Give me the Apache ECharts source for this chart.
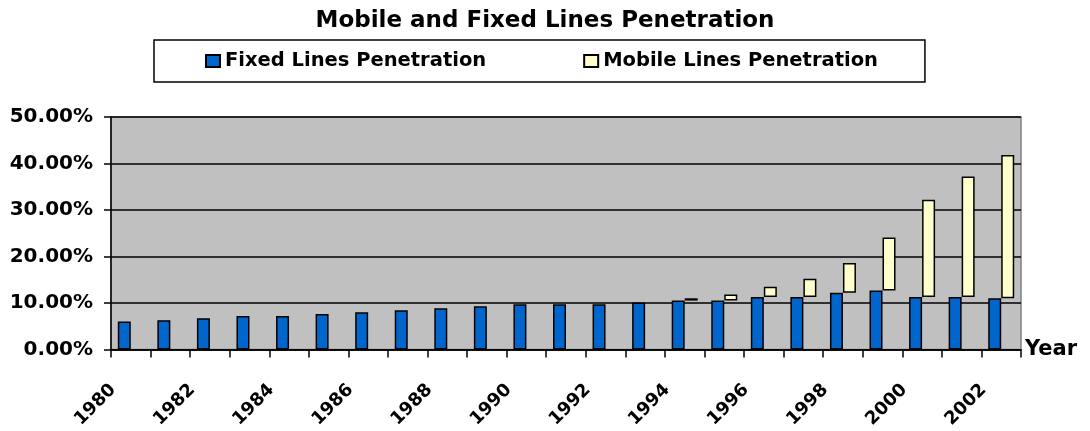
<!DOCTYPE html>
<html>
<head>
<meta charset="utf-8">
<script src="https://cdn.jsdelivr.net/npm/echarts@6/dist/echarts.min.js"></script>
<style>html,body{margin:0;padding:0;background:#fff}#c{width:1090px;height:431px}</style>
</head>
<body>
<div id="c"></div>
<script>
const years = ['1980','1981','1982','1983','1984','1985','1986','1987','1988','1989','1990','1991','1992','1993','1994','1995','1996','1997','1998','1999','2000','2001','2002'];
const fixedLines = [6.0,6.3,6.7,7.2,7.2,7.6,8.0,8.4,8.85,9.3,9.7,9.7,9.7,10.1,10.5,10.5,11.3,11.3,12.2,12.7,11.3,11.3,11.0];
// mobile bars drawn floating on top of the fixed-line level (stacked increments)
const mobileLines = [null,null,null,null,null,null,null,null,null,null,null,null,null,null,0.5,1.3,2.2,3.9,6.4,11.4,20.9,25.9,30.8];
const yTicks = [0,10,20,30,40,50];

const FONT = "'DejaVu Sans', Verdana, sans-serif";
const baseData = fixedLines.map((v,i)=> mobileLines[i] == null ? null : v);

const chart = echarts.init(document.getElementById('c'), null, {renderer:'canvas'});
chart.setOption({
  animation:false,
  backgroundColor:'#ffffff',
  title:{
    text:'Mobile and Fixed Lines Penetration',
    left:'center', top:10, padding:0,
    textStyle:{fontFamily:FONT,fontWeight:'bold',fontSize:23,color:'#000'}
  },
  legend:{
    left:154, top:40,
    padding:[11,47,11,51],
    itemGap:97,
    borderColor:'#000', borderWidth:1.5,
    backgroundColor:'#fff',
    icon:'rect', itemWidth:14, itemHeight:12,
    data:['Fixed Lines Penetration','Mobile Lines Penetration'],
    textStyle:{fontFamily:FONT,fontWeight:'bold',fontSize:19.5,color:'#000'}
  },
  grid:{
    left:111, right:69, top:117, bottom:79,
    show:true, backgroundColor:'#C0C0C0', borderColor:'#808080', borderWidth:1.5
  },
  xAxis:{
    type:'category', data:years,
    name:'Year', nameLocation:'end', nameGap:4,
    nameTextStyle:{fontFamily:FONT,fontWeight:'bold',fontSize:21,color:'#000',verticalAlign:'middle',padding:[9,0,0,0]},
    axisLine:{lineStyle:{color:'#000',width:1.5}},
    axisTick:{show:true,interval:0,length:8,lineStyle:{color:'#000',width:1.5}},
    axisLabel:{interval:1,rotate:45,margin:20,padding:[0,25,0,0],fontFamily:FONT,fontWeight:'bold',fontSize:18,color:'#000'},
    splitLine:{show:false}
  },
  yAxis:{
    type:'value', min:yTicks[0], max:yTicks[yTicks.length-1], interval:10,
    axisLine:{show:true,lineStyle:{color:'#000',width:1.5}},
    axisTick:{show:true,length:7,lineStyle:{color:'#000',width:1.5}},
    axisLabel:{margin:18,fontFamily:FONT,fontWeight:'bold',fontSize:20,color:'#000',formatter:v=>v.toFixed(2)+'%'},
    splitLine:{show:true,lineStyle:{color:'#000',width:1.5}}
  },
  series:[
    {name:'Fixed Lines Penetration',type:'bar',stack:'fixed',data:fixedLines,barWidth:13,barGap:'0%',
     itemStyle:{color:'#0066CC',borderColor:'#000',borderWidth:1.5}},
    {name:'base',type:'bar',stack:'mobile',data:baseData,barWidth:13,barGap:'0%',silent:true,
     itemStyle:{color:'rgba(0,0,0,0)',borderWidth:0}},
    {name:'Mobile Lines Penetration',type:'bar',stack:'mobile',data:mobileLines,barWidth:13,barGap:'0%',
     itemStyle:{color:'#FFFFCC',borderColor:'#000',borderWidth:1.5}}
  ]
});
</script>
</body>
</html>
